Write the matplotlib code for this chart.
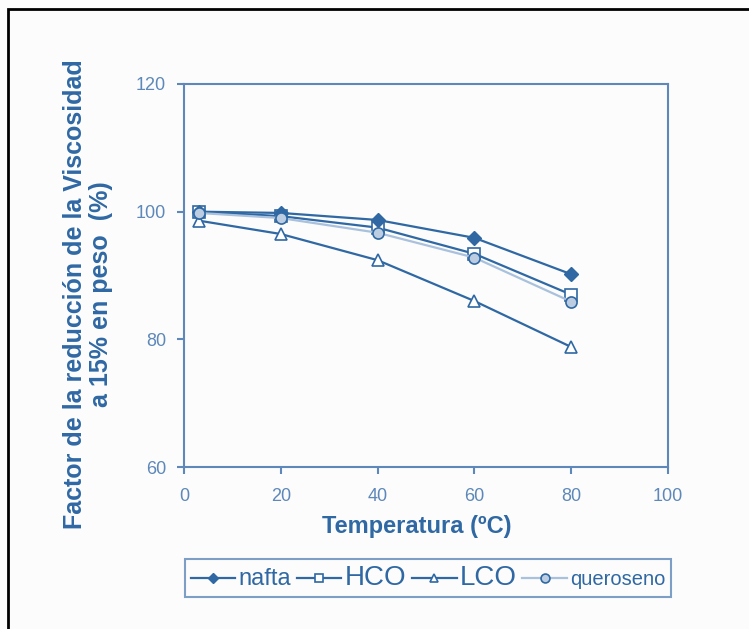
import matplotlib.pyplot as plt
from matplotlib.patches import Rectangle

plt.rcParams['font.family'] = ['Liberation Sans', 'DejaVu Sans']

temperatura = [3, 20, 40, 60, 80]
nafta = [100.0, 99.8, 98.7, 95.9, 90.2]
hco = [100.0, 99.3, 97.5, 93.4, 87.0]
lco = [98.6, 96.5, 92.4, 86.0, 78.8]
queroseno = [99.8, 99.0, 96.7, 92.8, 85.9]

series_names = ["nafta", "HCO", "LCO", "queroseno"]
x_ticks = [0, 20, 40, 60, 80, 100]
y_ticks = [60, 80, 100, 120]

blue = "#2f68a3"
tick_blue = "#5d88b9"
light = "#a9c1dc"

fig = plt.figure(figsize=(7.49, 6.29), dpi=100)
fig.patch.set_facecolor("#fcfcfc")
# black frame (only left and top edges visible in the crop)
fig.patches.append(Rectangle((8 / 749, -0.1), 1.2, 1 - 9 / 629 + 0.1,
                             transform=fig.transFigure, fill=False,
                             edgecolor="black", linewidth=2))

ax = fig.add_axes([184 / 749, 1 - 467 / 629, 484 / 749, 383 / 629])
ax.set_facecolor("#fcfcfc")

ax.plot(temperatura, nafta, color=blue, lw=1.6, marker="D", ms=7,
        mfc=blue, mec=blue, label=series_names[0], zorder=4)
ax.plot(temperatura, hco, color=blue, lw=1.6, marker="s", ms=8,
        mfc="white", mec=blue, mew=1.2, label=series_names[1], zorder=3)
ax.plot(temperatura, lco, color=blue, lw=1.6, marker="^", ms=8,
        mfc="white", mec=blue, mew=1.2, label=series_names[2], zorder=3)
ax.plot(temperatura, queroseno, color=light, lw=1.6, marker="o", ms=8,
        mfc="#bccde2", mec=blue, mew=1.2, label=series_names[3], zorder=5)

ax.set_xlim(0, 100)
ax.set_ylim(60, 120)
ax.set_xticks(x_ticks)
ax.set_yticks(y_ticks)
for s in ax.spines.values():
    s.set_color(tick_blue)
    s.set_linewidth(1.5)
ax.tick_params(direction="out", length=5, width=1.5, color=tick_blue,
               labelcolor=tick_blue, labelsize=13)
ax.tick_params(axis="x", pad=10)
ax.tick_params(axis="y", pad=8)

ax.set_xlabel("Temperatura (ºC)", fontsize=17, fontweight="bold", color=blue)
ax.xaxis.set_label_coords(0.481, -0.125)
fig.text(88 / 749, 1 - 294 / 629,
         "Factor de la reducción de la Viscosidad\na 15% en peso  (%)",
         rotation=90, ha="center", va="center", fontsize=18,
         fontweight="bold", color=blue, linespacing=1.12)

leg = fig.legend(loc="center", bbox_to_anchor=(428 / 749, 1 - 578 / 629),
                 ncol=4, frameon=True, fancybox=False, handlelength=2.3,
                 handletextpad=0.15, columnspacing=0.3, borderpad=0.3,
                 borderaxespad=0, markerscale=0.8, fontsize=14)
leg.get_frame().set_edgecolor(tick_blue)
leg.get_frame().set_linewidth(1.5)
leg.get_frame().set_facecolor("#fcfcfc")
sizes = [17, 20, 20, 14.5]
for t, sz in zip(leg.get_texts(), sizes):
    t.set_fontsize(sz)
    t.set_color(blue)

fig.savefig("out.png", dpi=100, facecolor=fig.get_facecolor())
